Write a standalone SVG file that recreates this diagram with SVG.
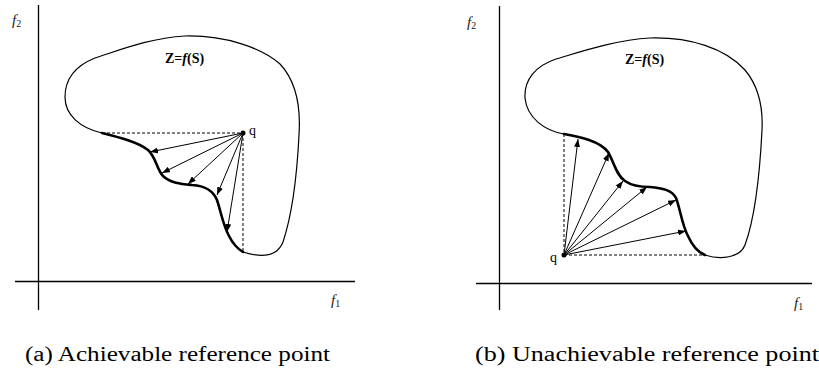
<svg xmlns="http://www.w3.org/2000/svg" width="819" height="378" viewBox="0 0 819 378">
<style>
.axis{stroke:#000;stroke-width:1.3;fill:none}
.blob{stroke:#000;stroke-width:1.2;fill:none}
.front{stroke:#000;stroke-width:2.6;fill:none;stroke-linecap:round}
.dash{stroke:#000;stroke-width:1;fill:none;stroke-dasharray:3,2}
.arr{stroke:#000;stroke-width:1;fill:none;marker-end:url(#ah)}
text{font-family:'Liberation Serif','Times New Roman',serif}
.lab{font-style:italic;font-size:15px;fill:#222}
.sub{font-size:10px;font-style:normal}
.z{font-weight:bold;font-size:14px;fill:#000}
.q{font-size:14px;fill:#000}
.cap{font-size:20px;fill:#000}
</style>
<defs>
<marker id="ah" viewBox="0 0 8 6" refX="8" refY="3" markerWidth="8" markerHeight="6" markerUnits="userSpaceOnUse" orient="auto">
<path d="M0,0 L8,3 L0,6 Z" fill="#000"/>
</marker>
</defs>

<g id="panel-a">
<g id="axes-a">
<line class="axis" x1="38.5" y1="5" x2="38.5" y2="310"/>
<line class="axis" x1="15" y1="281.5" x2="355" y2="281.5"/>
<text class="lab" x="12" y="25">f<tspan class="sub" dy="2">2</tspan></text>
<text class="lab" x="331" y="305">f<tspan class="sub" dy="2">1</tspan></text>
</g>
<g id="region-a">
<path class="blob" d="M102,133 C80,128 65,115 65,97 C65,80 75,66 95,58 C120,50 150,38 185,36 C225,35 262,48 280,64 C295,80 301,105 299,135 C297,175 292,215 283,242 C277,257 262,258 243,252"/>
<path class="front" d="M102,133 C118,137 138,142 148,150 C156,157 157,170 163,176 C170,183 182,184 192,185 C205,186 213,190 217,200 C221,212 223,225 229,236 C233,244 238,249 243,252"/>
<text class="z" x="165" y="63">Z=<tspan font-style="italic">f</tspan>(S)</text>
</g>
<g id="connectors-a">
<line class="dash" x1="102" y1="133" x2="243" y2="133"/>
<line class="dash" x1="243" y1="133" x2="243" y2="252"/>
<line class="arr" x1="243" y1="133" x2="150" y2="152"/>
<line class="arr" x1="243" y1="133" x2="162" y2="173"/>
<line class="arr" x1="243" y1="133" x2="188" y2="184"/>
<line class="arr" x1="243" y1="133" x2="217" y2="195"/>
<line class="arr" x1="243" y1="133" x2="227" y2="232"/>
</g>
<g id="q-a">
<circle cx="243" cy="133" r="2.5" fill="#000"/>
<text class="q" x="249" y="135">q</text>
</g>
</g>

<g id="panel-b">
<g id="axes-b">
<line class="axis" x1="499.5" y1="6" x2="499.5" y2="310"/>
<line class="axis" x1="476" y1="283.5" x2="812" y2="283.5"/>
<text class="lab" x="467" y="27">f<tspan class="sub" dy="2">2</tspan></text>
<text class="lab" x="794" y="308">f<tspan class="sub" dy="2">1</tspan></text>
</g>
<g id="region-b">
<path class="blob" d="M564,134 C545,131 527,118 525,98 C524,80 535,66 556,59 C580,52 615,40 650,38 C690,37 725,48 745,70 C760,88 763,110 762,130 C760,170 756,215 745,245 C740,258 720,260 705,255"/>
<path class="front" d="M564,134 C580,137 600,141 608,152 C614,162 616,175 625,181 C632,186 640,187 650,187 C662,188 672,190 676,198 C680,208 682,225 688,236 C692,245 697,252 705,255"/>
<text class="z" x="625" y="64">Z=<tspan font-style="italic">f</tspan>(S)</text>
</g>
<g id="connectors-b">
<line class="dash" x1="564" y1="134" x2="564" y2="255"/>
<line class="dash" x1="564" y1="255" x2="705" y2="255"/>
<line class="arr" x1="564" y1="255" x2="578" y2="139"/>
<line class="arr" x1="564" y1="255" x2="609" y2="153"/>
<line class="arr" x1="564" y1="255" x2="623" y2="181"/>
<line class="arr" x1="564" y1="255" x2="647" y2="187"/>
<line class="arr" x1="564" y1="255" x2="676" y2="200"/>
<line class="arr" x1="564" y1="255" x2="686" y2="231"/>
</g>
<g id="q-b">
<circle cx="564" cy="255" r="2.5" fill="#000"/>
<text class="q" x="550" y="262">q</text>
</g>
</g>

<g id="captions">
<text class="cap" x="25" y="361" textLength="305" lengthAdjust="spacingAndGlyphs">(a) Achievable reference point</text>
<text class="cap" x="475" y="361" textLength="344" lengthAdjust="spacingAndGlyphs">(b) Unachievable reference point</text>
</g>
</svg>
